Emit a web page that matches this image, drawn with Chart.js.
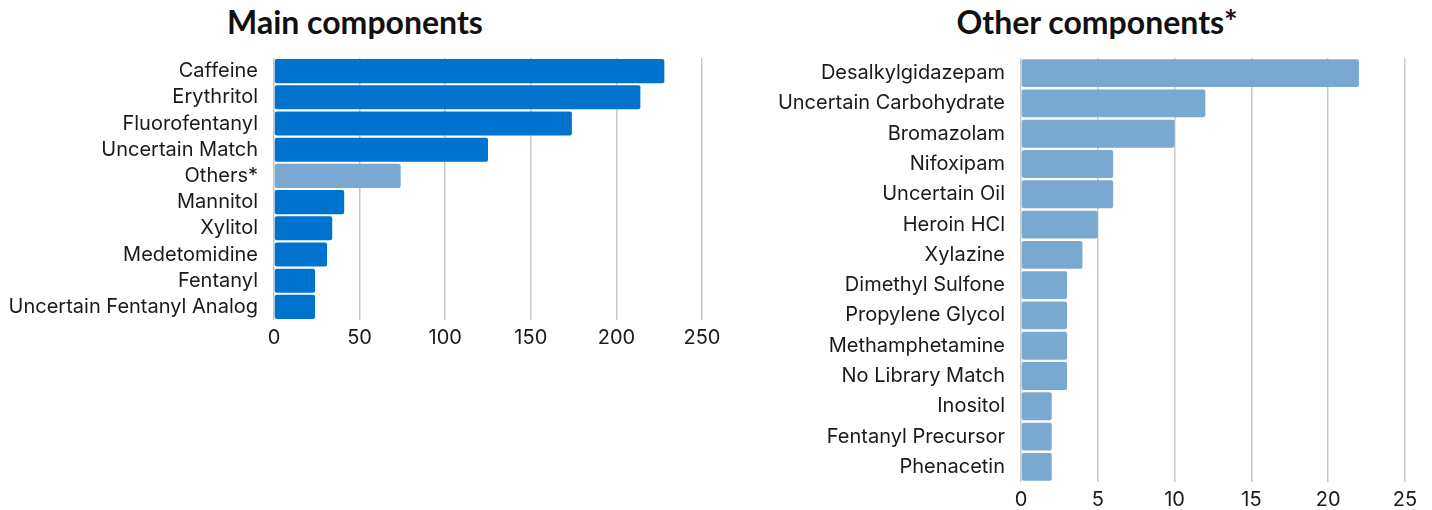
<!DOCTYPE html>
<html>
<head>
<meta charset="utf-8">
<script src="https://cdn.jsdelivr.net/npm/chart.js@4.4.0/dist/chart.umd.min.js"></script>
<style>
  html, body { margin: 0; padding: 0; background: #ffffff; }
  body { width: 1432px; height: 510px; position: relative; overflow: hidden; }
  .title { position: absolute; top: 0; font-family: Lato, sans-serif; font-weight: bold; font-size: 32px; line-height: 44px; color: #111; white-space: nowrap; transform: translateX(-50%); }
  .box { position: absolute; top: 0; }
</style>
</head>
<body>
<div class="title" id="t1" style="left:355px;">Main components</div>
<div class="title" id="t2" style="left:1097px;">Other components*</div>
<div class="box" style="left:0px; width:730px; height:510px;"><canvas id="c1"></canvas></div>
<div class="box" style="left:740px; width:692px; height:518px;"><canvas id="c2"></canvas></div>
<script>
const mainCategories = ["Caffeine", "Erythritol", "Fluorofentanyl", "Uncertain Match", "Others*", "Mannitol", "Xylitol", "Medetomidine", "Fentanyl", "Uncertain Fentanyl Analog"];
const mainValues = [228, 214, 174, 125, 74, 41, 34, 31, 24, 24];
const mainTicks = [0, 50, 100, 150, 200, 250];

const otherCategories = ["Desalkylgidazepam", "Uncertain Carbohydrate", "Bromazolam", "Nifoxipam", "Uncertain Oil", "Heroin HCl", "Xylazine", "Dimethyl Sulfone", "Propylene Glycol", "Methamphetamine", "No Library Match", "Inositol", "Fentanyl Precursor", "Phenacetin"];
const otherValues = [22, 12, 10, 6, 6, 5, 4, 3, 3, 3, 3, 2, 2, 2];
const otherTicks = [0, 5, 10, 15, 20, 25];

const DARK = "#0073cf";
const LIGHT = "#79a9d1";
const FONT = "Inter, 'Noto Sans', sans-serif";

function makeChart(id, cats, vals, colors, ticks, yWidth, pad) {
  return new Chart(document.getElementById(id), {
    type: "bar",
    data: {
      labels: cats,
      datasets: [{
        data: vals,
        backgroundColor: colors,
        borderWidth: 0,
        borderRadius: 2,
        borderSkipped: false,
        barPercentage: 0.92,
        categoryPercentage: 1.0
      }]
    },
    options: {
      indexAxis: "y",
      responsive: true,
      maintainAspectRatio: false,
      animation: false,
      layout: { padding: pad },
      plugins: { legend: { display: false }, tooltip: { enabled: false }, title: { display: false } },
      scales: {
        x: {
          min: ticks[0], max: ticks[ticks.length - 1],
          afterBuildTicks: (scale) => { scale.ticks = ticks.map(v => ({ value: v })); },
          ticks: { padding: 6, color: "#1a1a1a", font: { family: FONT, size: 20 } },
          grid: { color: "#c8c8c8", lineWidth: 1.5, drawTicks: false },
          border: { display: false }
        },
        y: {
          afterFit: (scale) => { scale.width = yWidth; },
          ticks: { autoSkip: false, padding: 16, color: "#1a1a1a", font: { family: FONT, size: 20 } },
          grid: { display: false, drawTicks: false },
          border: { display: false }
        }
      }
    }
  });
}

const mainColors = mainCategories.map(c => c === "Others*" ? LIGHT : DARK);
const otherColors = otherCategories.map(() => LIGHT);

makeChart("c1", mainCategories, mainValues, mainColors, mainTicks, 274, { top: 58, bottom: 154, left: 0, right: 28 });
makeChart("c2", otherCategories, otherValues, otherColors, otherTicks, 281, { top: 58, bottom: 0, left: 0, right: 27 });
</script>
</body>
</html>
